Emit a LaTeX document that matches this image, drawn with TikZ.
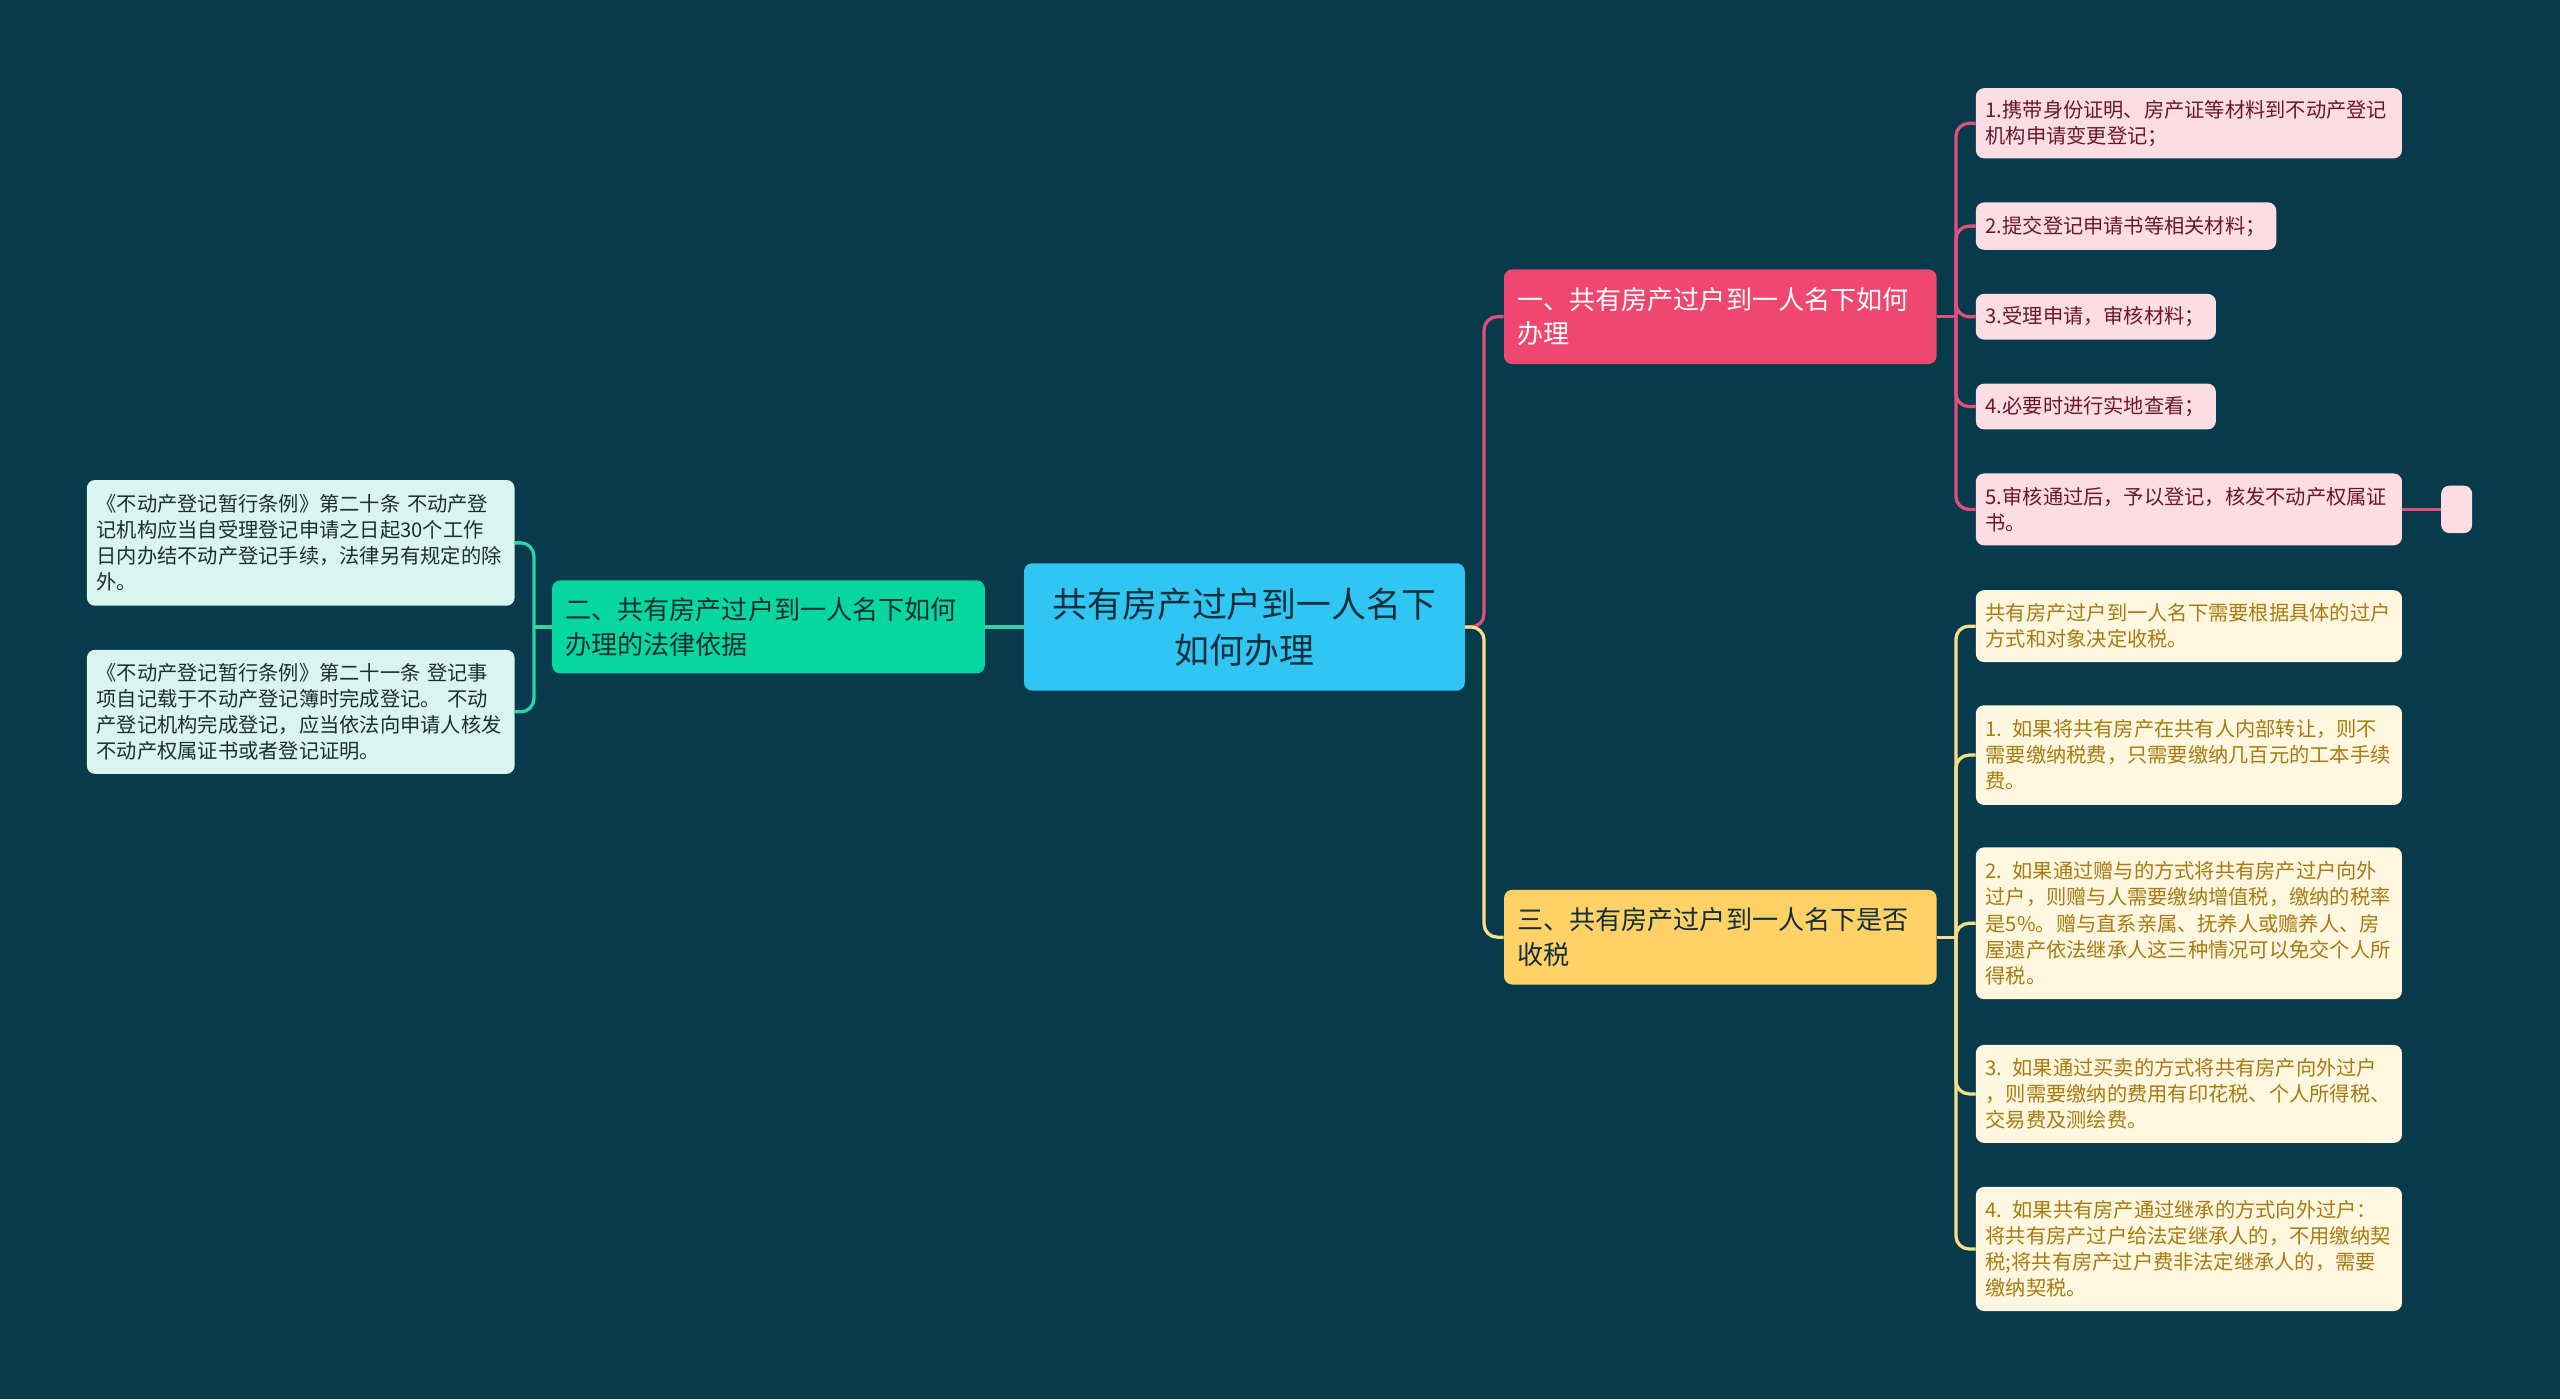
\documentclass[tikz,border=0pt]{standalone}
\usepackage{fontspec}
\setmainfont{Noto Sans CJK SC}[WordSpace=0.6]
\definecolor{bg}{HTML}{073B4C}
\definecolor{rootc}{HTML}{30C5F2}
\definecolor{greenc}{HTML}{06D6A0}
\definecolor{pinkc}{HTML}{EF476F}
\definecolor{yellc}{HTML}{FFD166}
\definecolor{pinkleaf}{HTML}{FCDDE3}
\definecolor{yellleaf}{HTML}{FFF7E0}
\definecolor{mintleaf}{HTML}{D8F6EE}
\definecolor{pinktext}{HTML}{6B1530}
\definecolor{yelltext}{HTML}{A87A10}
\definecolor{minttext}{HTML}{1E2E2E}
\definecolor{roottext}{HTML}{10303C}
\definecolor{pinkline}{HTML}{E0507A}
\definecolor{yellline}{HTML}{F8DE8A}
\definecolor{mintline}{HTML}{2ED3A8}
\begin{document}
\begin{tikzpicture}[x=1pt,y=-1pt,
  box/.style={rounded corners=5pt, inner ysep=0pt, anchor=west, align=left},
  leafP/.style={box, fill=pinkleaf, text=pinktext, inner xsep=6pt, font=\fontsize{12.4}{16}\selectfont},
  leafY/.style={box, fill=yellleaf, text=yelltext, inner xsep=6pt, text width=249pt, font=\fontsize{12.4}{16}\selectfont},
  leafM/.style={box, fill=mintleaf, text=minttext, inner xsep=6pt, text width=250pt, font=\fontsize{12.4}{16}\selectfont},
  branch/.style={box, inner xsep=8pt, text width=249pt, minimum height=58pt, font=\fontsize{16}{21}\selectfont},
  pinkl/.style={draw=pinkline, line width=2pt},
  yelll/.style={draw=yellline, line width=2pt},
  mintl/.style={draw=mintline, line width=2pt}
]
\fill[bg] (0,0) rectangle (1568,857);
\useasboundingbox (0,0) rectangle (1568,857);

% root
\node[box, fill=rootc, text=roottext, align=center, inner xsep=8pt, text width=254pt, minimum height=78pt,
  font=\fontsize{21.4}{28}\selectfont] (root) at (627,384) {共有房产过户到一人名下\\如何办理};

% branches
\node[branch, fill=greenc, text=minttext, minimum height=57pt] (n2) at (338,384) {二、共有房产过户到一人名下如何\\办理的法律依据};
\node[branch, fill=pinkc, text=white] (n1) at (921,194) {一、共有房产过户到一人名下如何\\办理};
\node[branch, fill=yellc, text=roottext] (n3) at (921,574) {三、共有房产过户到一人名下是否\\收税};

% mint leaves
\node[leafM, minimum height=77pt] (m1) at (53,332.5) {《不动产登记暂行条例》第二十条 不动产登\\记机构应当自受理登记申请之日起30个工作\\日内办结不动产登记手续，法律另有规定的除\\外。};
\node[leafM, minimum height=76pt] (m2) at (53,436) {《不动产登记暂行条例》第二十一条 登记事\\项自记载于不动产登记簿时完成登记。 不动\\产登记机构完成登记，应当依法向申请人核发\\不动产权属证书或者登记证明。};

% pink leaves
\node[leafP, text width=249pt, minimum height=43pt] (p1) at (1210,75.5) {1.携带身份证明、房产证等材料到不动产登记\\机构申请变更登记；};
\node[leafP, text width=172pt, minimum height=29pt] (p2) at (1210,138.5) {2.提交登记申请书等相关材料；};
\node[leafP, text width=135pt, minimum height=28pt] (p3) at (1210,194) {3.受理申请，审核材料；};
\node[leafP, text width=135pt, minimum height=28pt] (p4) at (1210,249) {4.必要时进行实地查看；};
\node[leafP, text width=249pt, minimum height=44pt] (p5) at (1210,312) {5.审核通过后，予以登记，核发不动产权属证\\书。};
\node[box, fill=pinkleaf, inner xsep=0pt, minimum width=19pt, minimum height=29pt] (s) at (1495,312) {};

% yellow leaves
\node[leafY, minimum height=44pt] (y0) at (1210,383.5) {共有房产过户到一人名下需要根据具体的过户\\方式和对象决定收税。};
\node[leafY, minimum height=61pt] (y1) at (1210,462.5) {1. 如果将共有房产在共有人内部转让，则不\\需要缴纳税费，只需要缴纳几百元的工本手续\\费。};
\node[leafY, minimum height=93pt] (y2) at (1210,565.5) {2. 如果通过赠与的方式将共有房产过户向外\\过户，则赠与人需要缴纳增值税，缴纳的税率\\是5\%。赠与直系亲属、抚养人或赡养人、房\\屋遗产依法继承人这三种情况可以免交个人所\\得税。};
\node[leafY, minimum height=60pt] (y3) at (1210,670) {3. 如果通过买卖的方式将共有房产向外过户\\，则需要缴纳的费用有印花税、个人所得税、\\交易费及测绘费。};
\node[leafY, minimum height=76pt] (y4) at (1210,765) {4. 如果共有房产通过继承的方式向外过户：\\将共有房产过户给法定继承人的，不用缴纳契\\税;将共有房产过户费非法定继承人的，需要\\缴纳契税。};

% junctions
\coordinate (jl) at (327,384);
\coordinate (jr) at (909,384);
\coordinate (jp) at (1198,194);
\coordinate (jy) at (1198,574);

% connectors
\draw[mintl] (root.west) -- (n2.east);
\draw[mintl] (n2.west) -- (jl);
\draw[mintl, rounded corners=8pt] (jl) |- (m1.east);
\draw[mintl, rounded corners=8pt] (jl) |- (m2.east);

\draw[pinkl, rounded corners=8pt] (root.east) -- (jr) |- (n1.west);
\draw[yelll, rounded corners=8pt] (root.east) -- (jr) |- (n3.west);

\draw[pinkl] (n1.east) -- (jp);
\foreach \t in {p1,p2,p3,p4,p5} \draw[pinkl, rounded corners=8pt] (jp) |- (\t.west);
\draw[pinkl] (p5.east) -- (s.west);

\draw[yelll] (n3.east) -- (jy);
\foreach \t in {y0,y1,y2,y3,y4} \draw[yelll, rounded corners=8pt] (jy) |- (\t.west);
\end{tikzpicture}
\end{document}
